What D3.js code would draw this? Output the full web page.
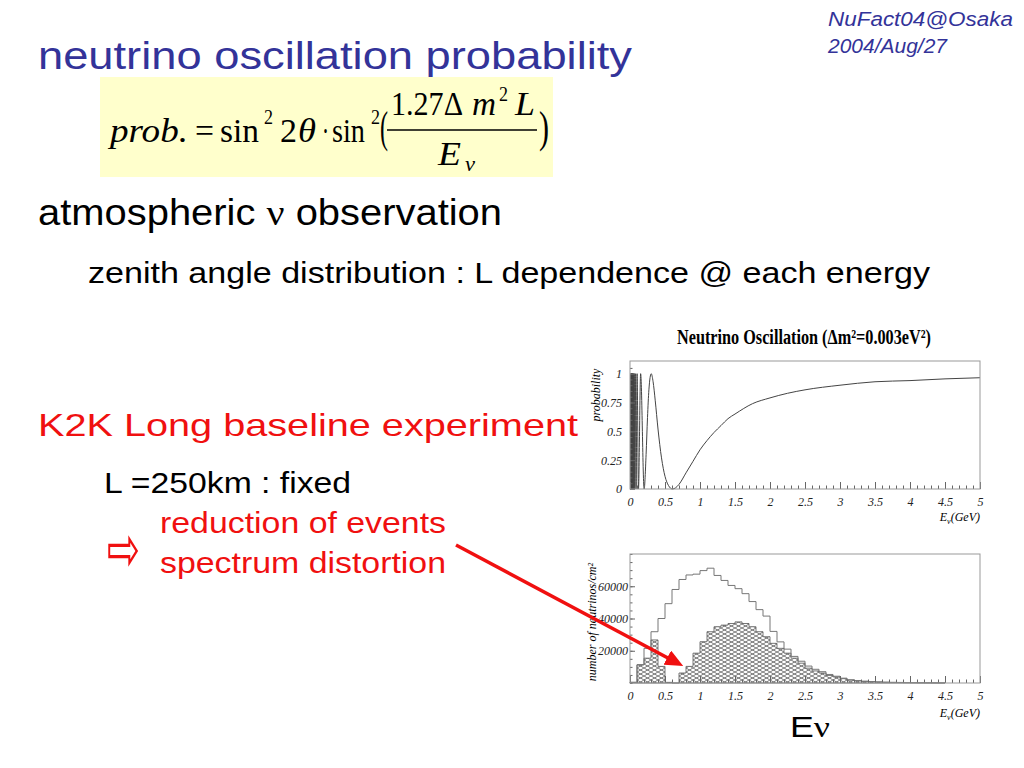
<!DOCTYPE html>
<html>
<head>
<meta charset="utf-8">
<script src="https://cdn.jsdelivr.net/npm/d3@7"></script>
<style>
  body { margin: 0; background: #fff; }
  svg { display: block; }
  .sans { font-family: 'Liberation Sans', Arial, sans-serif; }
  .serif { font-family: 'Liberation Serif', 'Times New Roman', serif; }
  .axis text { font-family: 'Liberation Serif', 'Times New Roman', serif; font-style: italic; font-size: 12px; fill: #222; }
  .axis line { stroke: #666; }
  .axis .domain { display: none; }
</style>
</head>
<body>
<div id="slide"></div>
<script>
// survival probability (dm2 = 0.003 eV^2, L = 250 km)
const probEnergy = [0.012, 0.0155, 0.016, 0.0165, 0.017, 0.0175, 0.018, 0.0185, 0.019, 0.0195,
  0.020, 0.021, 0.022, 0.0225, 0.023, 0.024, 0.025, 0.026, 0.028, 0.029,
  0.030, 0.032, 0.034, 0.036, 0.038, 0.040, 0.043, 0.047, 0.051, 0.055,
  0.061, 0.067, 0.076, 0.087, 0.101, 0.121, 0.152, 0.202,
  0.23, 0.25, 0.27, 0.303, 0.33, 0.36, 0.40, 0.45, 0.50, 0.55, 0.606, 0.65, 0.70,
  0.80, 0.90, 1.0, 1.1, 1.2, 1.3, 1.4, 1.5, 1.75, 2.0, 2.25, 2.5, 3.0, 3.5, 4.0, 4.5, 5.0]
const probValue = [0.5,
  0, 1, 0, 1, 0, 1, 0, 1, 0, 1, 0, 1, 0, 1, 0, 1, 0, 1,
  0, 1, 0, 1, 0, 1, 0, 1, 0, 1, 0, 1, 0, 1, 0, 1, 0, 1, 0,
  0.30, 0.62, 0.86, 1.0, 0.93, 0.77, 0.52, 0.27, 0.11, 0.03, 0, 0.01, 0.04,
  0.14, 0.24, 0.34, 0.42, 0.49, 0.55, 0.61, 0.65, 0.74, 0.79, 0.83, 0.86, 0.90, 0.93, 0.94, 0.955, 0.965]

// histogram bins (lower edge, GeV)
const binStart = [0.0, 0.1, 0.2, 0.3, 0.4, 0.5, 0.6, 0.7, 0.8, 0.9,
  1.0, 1.1, 1.2, 1.3, 1.4, 1.5, 1.6, 1.7, 1.8, 1.9,
  2.0, 2.1, 2.2, 2.3, 2.4, 2.5, 2.6, 2.7, 2.8, 2.9,
  3.0, 3.1, 3.2, 3.3, 3.4, 3.5, 3.6, 3.7, 3.8, 3.9,
  4.0, 4.1, 4.2, 4.3, 4.4]
const binWidth = 0.1
// without oscillation (open histogram)
const noOscCount = [500, 11300, 21500, 31800, 40000, 49200, 58000, 64200, 67000, 67500,
  69700, 71200, 66700, 63600, 60500, 58500, 55400, 50500, 45500, 41500,
  32000, 25500, 21000, 16500, 13500, 10500, 8500, 7000, 5300, 4200,
  3000, 2000, 1500, 1100, 900, 700, 500, 400, 350, 300,
  250, 200, 150, 100, 80]
// with oscillation (hatched histogram)
const oscCount = [300, 11300, 15400, 26700, 10300, 400, 0, 6200, 10300, 18500,
  25600, 31800, 34900, 35900, 36900, 37900, 36900, 34900, 31800, 28700,
  24600, 21500, 18500, 15400, 12300, 9200, 7500, 6200, 4700, 3800,
  2700, 1800, 1400, 1000, 800, 600, 450, 350, 300, 250,
  200, 150, 120, 80, 60]

const energyTicks = [0, 0.5, 1, 1.5, 2, 2.5, 3, 3.5, 4, 4.5, 5]
const probTicks = [0, 0.25, 0.5, 0.75, 1]
const countTicks = [20000, 40000, 60000]

const red = '#f01010'
const blue = '#333399'

const svg = d3.select('#slide').append('svg')
  .attr('width', 1024)
  .attr('height', 768)

const pat = svg.append('defs').append('pattern')
  .attr('id', 'hatch')
  .attr('patternUnits', 'userSpaceOnUse')
  .attr('width', 7)
  .attr('height', 4)
pat.append('rect').attr('width', 7).attr('height', 4).attr('fill', '#fff')
pat.append('path')
  .attr('d', 'M0,0L7,4M0,4L7,0')
  .attr('stroke', '#555')
  .attr('stroke-width', 0.8)

// ---- slide text ----
const addText = (str, x, y, size, opts = {}) => svg.append('text')
  .attr('class', opts.serif ? 'serif' : 'sans')
  .attr('x', x)
  .attr('y', y)
  .attr('font-size', size)
  .attr('fill', opts.fill || '#000')
  .attr('font-style', opts.italic ? 'italic' : null)
  .attr('textLength', opts.len || null)
  .attr('lengthAdjust', opts.len ? 'spacingAndGlyphs' : null)
  .text(str)

addText('neutrino oscillation probability', 38, 69, 38, { fill: blue, len: 594 })
addText('NuFact04@Osaka', 828, 26, 20, { fill: blue, italic: true, len: 185 })
addText('2004/Aug/27', 828, 53, 20, { fill: blue, italic: true, len: 119 })

const atm = addText('atmospheric ', 38, 225, 36, { len: 464 })
atm.append('tspan').attr('class', 'serif').text('ν')
atm.append('tspan').text(' observation')

addText('zenith angle distribution : L dependence @ each energy', 88, 283, 29, { len: 842 })
addText('K2K Long baseline experiment', 38, 436, 32, { fill: red, len: 540 })
addText('L =250km : fixed', 104, 493, 29, { len: 247 })
addText('reduction of events', 160, 533, 30, { fill: red, len: 286 })
addText('spectrum distortion', 160, 573, 30, { fill: red, len: 286 })
addText('⇨', 107, 571, 64, { fill: red, len: 33 }).attr('class', null)
  .style('font-family', "'DejaVu Sans', sans-serif")

const ev = addText('E', 790, 737, 30, { len: 40 })
ev.append('tspan').attr('class', 'serif').text('ν')

// ---- formula box ----
svg.append('rect')
  .attr('x', 100).attr('y', 77)
  .attr('width', 453).attr('height', 100)
  .attr('fill', '#ffffcc')

const fx = (str, x, y, size, len, italic) => svg.append('text')
  .attr('class', 'serif')
  .attr('x', x).attr('y', y)
  .attr('font-size', size)
  .attr('font-style', italic ? 'italic' : null)
  .attr('textLength', len)
  .attr('lengthAdjust', 'spacingAndGlyphs')
  .text(str)

fx('prob.', 110, 142, 34, 78, true)
fx('=', 195, 142, 34, 19)
fx('sin', 220, 142, 34, 39)
fx('2', 264, 124, 20, 9)
fx('2', 280, 142, 34, 17)
fx('θ', 298, 142, 34, 18, true)
fx('·', 322, 142, 34, 7)
fx('sin', 332, 142, 34, 33)
fx('2', 371, 124, 20, 9)
fx('(', 380, 142, 44, 8)
fx('1.27Δ', 391, 115, 34, 72)
fx('m', 472, 115, 34, 24, true)
fx('2', 499, 101, 20, 9)
fx('L', 515, 115, 34, 20, true)
svg.append('line')
  .attr('x1', 387).attr('x2', 537)
  .attr('y1', 130).attr('y2', 130)
  .attr('stroke', '#000').attr('stroke-width', 1.5)
fx('E', 438, 165, 34, 23, true)
fx('ν', 465, 171, 20, 10, true)
fx(')', 539, 142, 44, 10)

// ---- upper plot: oscillation probability ----
const x = d3.scaleLinear().domain([0, 5]).range([630, 980])
const yProb = d3.scaleLinear().domain([0, 1.11]).range([489, 361])

svg.append('text')
  .attr('class', 'serif')
  .attr('x', 677).attr('y', 344)
  .attr('font-size', 21)
  .attr('font-weight', 'bold')
  .attr('textLength', 254)
  .attr('lengthAdjust', 'spacingAndGlyphs')
  .text('Neutrino Oscillation (Δm²=0.003eV²)')

const probLine = d3.line()
  .x(d => x(d[0]))
  .y(d => yProb(d[1]))
  .curve(d3.curveMonotoneX)

svg.append('path')
  .datum(probEnergy.map((e, i) => [e, probValue[i]]))
  .attr('d', probLine)
  .attr('fill', 'none')
  .attr('stroke', '#444')
  .attr('stroke-width', 1)

const drawFrame = (y, top, bottom, yMajor, yMinor, yPad) => {
  svg.append('g').attr('class', 'axis')
    .attr('transform', 'translate(0,' + bottom + ')')
    .call(d3.axisBottom(x).tickValues(d3.range(0, 5.001, 0.1)).tickSize(-3.5).tickFormat(''))
  svg.append('g').attr('class', 'axis')
    .attr('transform', 'translate(0,' + bottom + ')')
    .call(d3.axisBottom(x).tickValues(energyTicks).tickSize(-7).tickPadding(8).tickFormat(d3.format('')))
  svg.append('g').attr('class', 'axis')
    .attr('transform', 'translate(630,0)')
    .call(d3.axisLeft(y).tickValues(yMinor).tickSize(-2.5).tickFormat(''))
  svg.append('g').attr('class', 'axis')
    .attr('transform', 'translate(630,0)')
    .call(d3.axisLeft(y).tickValues(yMajor).tickSize(-5).tickPadding(yPad).tickFormat(d3.format('')))
  svg.append('rect')
    .attr('x', 630).attr('y', top)
    .attr('width', 350).attr('height', bottom - top)
    .attr('fill', 'none')
    .attr('stroke', '#999')
}

drawFrame(yProb, 361, 489, probTicks, d3.range(0, 1.1, 0.05), 8)

const axisTitle = (yBase) => svg.append('text')
  .attr('class', 'serif')
  .attr('x', 980).attr('y', yBase)
  .attr('text-anchor', 'end')
  .attr('font-size', 12)
  .attr('font-style', 'italic')
  .call(t => {
    t.append('tspan').text('E')
    t.append('tspan').attr('dy', 3).attr('font-size', 8).text('ν')
    t.append('tspan').attr('dy', -3).text('(GeV)')
  })

axisTitle(521)

svg.append('text')
  .attr('class', 'serif')
  .attr('transform', 'translate(600,395) rotate(-90)')
  .attr('text-anchor', 'middle')
  .attr('font-size', 12)
  .attr('font-style', 'italic')
  .text('probability')

// ---- lower plot: neutrino spectrum ----
const yCount = d3.scaleLinear().domain([0, 80000]).range([683, 554])

const stepPoints = (counts) => {
  const last = binStart.length - 1
  return [[binStart[0], 0]]
    .concat(binStart.map((b, i) => [b, counts[i]]))
    .concat([[binStart[last] + binWidth, counts[last]], [binStart[last] + binWidth, 0]])
}

const histArea = d3.area()
  .x(d => x(d[0]))
  .y0(yCount(0))
  .y1(d => yCount(d[1]))
  .curve(d3.curveStepAfter)

const histLine = d3.line()
  .x(d => x(d[0]))
  .y(d => yCount(d[1]))
  .curve(d3.curveStepAfter)

svg.append('path')
  .datum(stepPoints(oscCount))
  .attr('d', histArea)
  .attr('fill', 'url(#hatch)')
  .attr('stroke', '#555')
  .attr('stroke-width', 0.8)

svg.append('path')
  .datum(stepPoints(noOscCount))
  .attr('d', histLine)
  .attr('fill', 'none')
  .attr('stroke', '#777')
  .attr('stroke-width', 1)

drawFrame(yCount, 554, 683, countTicks, d3.range(0, 80001, 5000), 2)
axisTitle(717)

svg.append('text')
  .attr('class', 'serif')
  .attr('transform', 'translate(596,622) rotate(-90)')
  .attr('text-anchor', 'middle')
  .attr('font-size', 12)
  .attr('font-style', 'italic')
  .text('number of neutrinos/cm²')

// ---- red pointer to the dip in the spectrum ----
svg.append('defs').append('marker')
  .attr('id', 'head')
  .attr('markerUnits', 'userSpaceOnUse')
  .attr('markerWidth', 18)
  .attr('markerHeight', 16)
  .attr('refX', 6)
  .attr('refY', 8)
  .attr('orient', 'auto')
  .append('path')
  .attr('d', 'M0,0L18,8L0,16Z')
  .attr('fill', red)

const tipX = x(0.76)
const tipY = yCount(10500)
const ang = Math.atan2(tipY - 545, tipX - 456)
svg.append('line')
  .attr('x1', 456).attr('y1', 545)
  .attr('x2', tipX - 12 * Math.cos(ang))
  .attr('y2', tipY - 12 * Math.sin(ang))
  .attr('stroke', red)
  .attr('stroke-width', 3.5)
  .attr('marker-end', 'url(#head)')
</script>
</body>
</html>
